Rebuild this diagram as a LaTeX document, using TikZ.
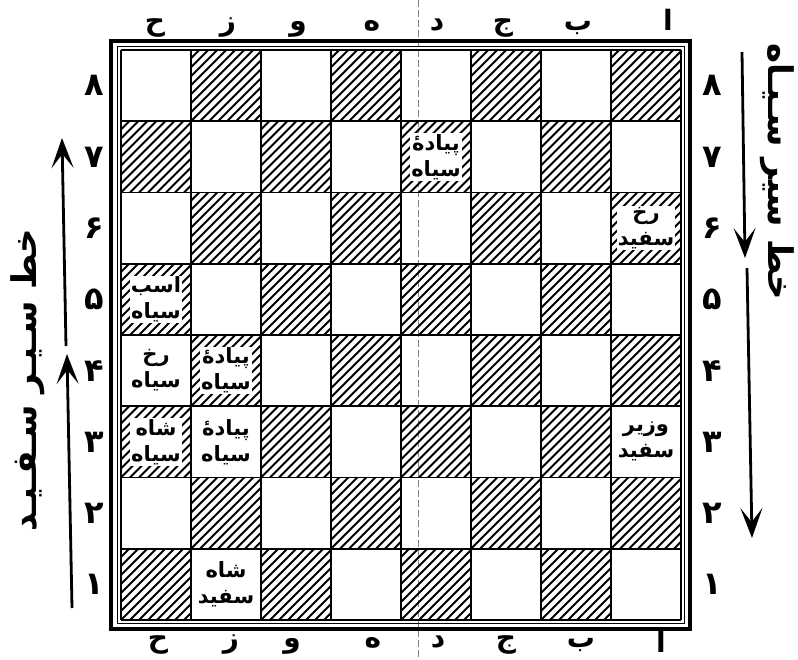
\documentclass[tikz,border=0pt]{standalone}
\usepackage{fontspec}
\usetikzlibrary{arrows.meta}
\newfontfamily\arabicfont[Script=Arabic]{DejaVu Sans}
\TeXXeTstate=1
\newcommand{\fa}[1]{{\arabicfont\beginR #1\endR}}
\tikzset{
 hatch/.style={line width=2pt},
 boardline/.style={line width=1.6pt},
 piece/.style={fill=white, inner sep=1pt, align=center, font=\arabicfont\bfseries\fontsize{21}{26}\selectfont},
 ranklabel/.style={font=\arabicfont\bfseries\fontsize{32}{34}\selectfont, inner sep=0pt},
 filelabel/.style={font=\arabicfont\bfseries\fontsize{28}{30}\selectfont, inner sep=0pt, anchor=base},
 walk/.style={line width=2.8pt, -{Stealth[length=30pt,width=22pt,inset=14pt]}},
 pathtext/.style={font=\arabicfont\bfseries\fontsize{34}{38}\selectfont, inner sep=0pt},
}
\begin{document}
\begin{tikzpicture}[x=1pt,y=-1pt]
\useasboundingbox (0,0) rectangle (798,659);
% fold line
\draw[gray, line width=0.6pt, dash pattern=on 7pt off 3pt] (418,0) -- (418,659);
% hatched squares
\foreach \r in {1,...,8}{\foreach \c in {1,...,8}{
 \pgfmathtruncatemacro{\hp}{mod(\r+\c,2)}
 \ifnum\hp=0
  \begin{scope}
   \clip ({121+70*(\c-1)},{50+71.25*(8-\r)}) rectangle ++(70,71.25);
   \foreach \k in {-81,-72,...,72}{
     \draw[hatch] ({121+70*(\c-1)+\k},{121.25+71.25*(8-\r)}) -- ++(85,-85);}
  \end{scope}
 \fi}}
% grid
\foreach \i in {0,...,8}{
 \draw[boardline] ({121+70*\i},50) -- ({121+70*\i},620);
 \draw[boardline] (121,{50+71.25*\i}) -- (681,{50+71.25*\i});}
% frame
\draw[line width=1.5pt] (117.5,46.5) rectangle (684.5,623.5);
\draw[line width=4.5pt] (111,41) rectangle (690,629);
% pieces
\node[piece] (p-d7) at (436,156.9) {\fa{پیادهٔ}\\\fa{سیاه}};
\node[piece] (r-a6) at (646,228.1) {\fa{رخ}\\\fa{سفید}};
\node[piece] (n-h5) at (156,299.4) {\fa{اسب}\\\fa{سیاه}};
\node[piece] (r-h4) at (156,370.6) {\fa{رخ}\\\fa{سیاه}};
\node[piece] (p-g4) at (226,370.6) {\fa{پیادهٔ}\\\fa{سیاه}};
\node[piece] (k-h3) at (156,441.9) {\fa{شاه}\\\fa{سیاه}};
\node[piece] (p-g3) at (226,441.9) {\fa{پیادهٔ}\\\fa{سیاه}};
\node[piece] (q-a3) at (646,441.9) {\fa{وزیر}\\\fa{سفید}};
\node[piece] (k-g1) at (226,584.4) {\fa{شاه}\\\fa{سفید}};
% file labels top
\node[filelabel] (t1) at (155,30) {\fa{ح}};
\node[filelabel] (t2) at (228,30) {\fa{ز}};
\node[filelabel] (t3) at (298,30) {\fa{و}};
\node[filelabel] (t4) at (372,30) {\fa{ه}};
\node[filelabel] (t5) at (437,30) {\fa{د}};
\node[filelabel] (t6) at (503,30) {\fa{ج}};
\node[filelabel] (t7) at (578,30) {\fa{ب}};
\node[filelabel] (t8) at (668,30) {\fa{ا}};
% file labels bottom
\node[filelabel] (b1) at (158,647) {\fa{ح}};
\node[filelabel] (b2) at (231,647) {\fa{ز}};
\node[filelabel] (b3) at (292,647) {\fa{و}};
\node[filelabel] (b4) at (373,647) {\fa{ه}};
\node[filelabel] (b5) at (438,647) {\fa{د}};
\node[filelabel] (b6) at (506,647) {\fa{ج}};
\node[filelabel] (b7) at (581,647) {\fa{ب}};
\node[filelabel] (b8) at (661,652) {\fa{ا}};
% rank labels
\foreach \r/\d in {1/۱,2/۲,3/۳,4/۴,5/۵,6/۶,7/۷,8/۸}{
 \node[ranklabel] (l\r) at (94,{85.6+71.25*(8-\r)}) {\fa{\d}};
 \node[ranklabel] (r\r) at (712,{85.6+71.25*(8-\r)}) {\fa{\d}};}
% white path arrows
\coordinate (wa1) at (72,608);
\coordinate (wa2) at (67,354);
\coordinate (wb1) at (66,346);
\coordinate (wb2) at (62,138);
\draw[walk] (wa1) -- (wa2);
\draw[walk] (wb1) -- (wb2);
\node[pathtext, rotate=90] (whitepath) at (28,380) {\fa{خط سـیـر سـفـیـد}};
% black path arrows
\coordinate (ba1) at (742,52);
\coordinate (ba2) at (745,258);
\coordinate (bb1) at (747,268);
\coordinate (bb2) at (752,538);
\draw[walk] (ba1) -- (ba2);
\draw[walk] (bb1) -- (bb2);
\node[pathtext, rotate=-90] (blackpath) at (777,172) {\fa{خط سیر سـیـاه}};
\end{tikzpicture}
\end{document}
